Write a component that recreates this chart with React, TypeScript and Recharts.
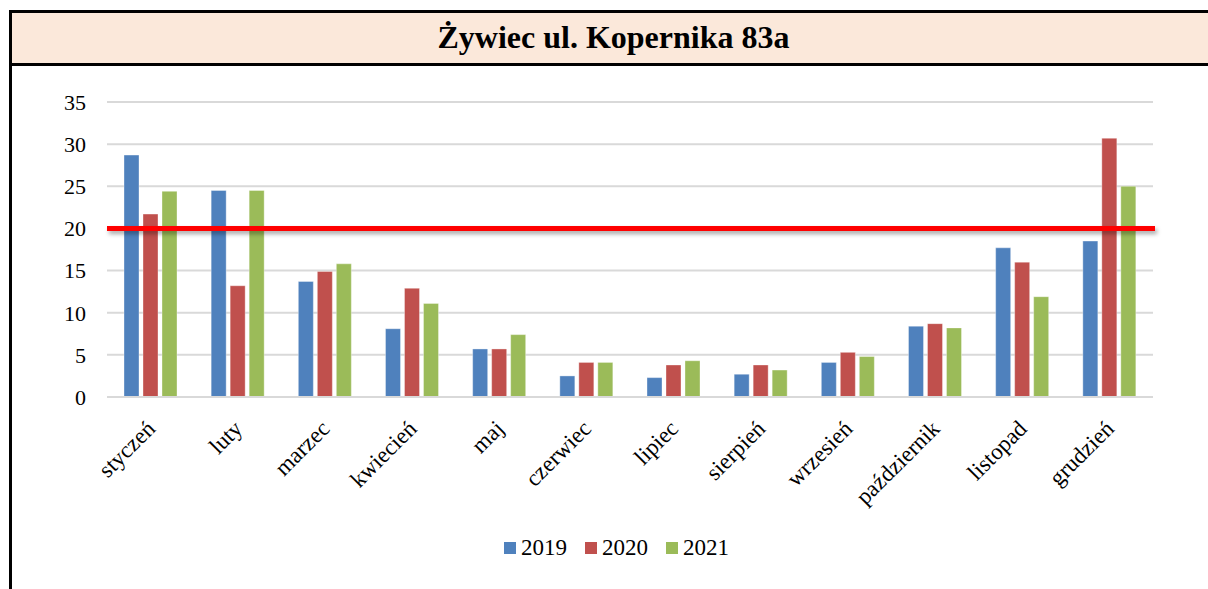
import { Bar, BarChart, CartesianGrid, Legend, ReferenceLine, XAxis, YAxis } from "recharts"

const months = [
  "styczeń",
  "luty",
  "marzec",
  "kwiecień",
  "maj",
  "czerwiec",
  "lipiec",
  "sierpień",
  "wrzesień",
  "październik",
  "listopad",
  "grudzień",
]

const years = ["2019", "2020", "2021"]
const y2019 = [28.7, 24.5, 13.7, 8.1, 5.7, 2.5, 2.3, 2.7, 4.1, 8.4, 17.7, 18.5]
const y2020 = [21.7, 13.2, 14.9, 12.9, 5.7, 4.1, 3.8, 3.8, 5.3, 8.7, 16.0, 30.7]
const y2021 = [24.4, 24.5, 15.8, 11.1, 7.4, 4.1, 4.3, 3.2, 4.8, 8.2, 11.9, 25.0]
const yTicks = [0, 5, 10, 15, 20, 25, 30, 35]
const limit = 20

const colors = ["#4F81BD", "#C0504D", "#9BBB59"]
const font = "'Liberation Serif', 'Times New Roman', serif"

const data = months.map((name, i) => ({
  name,
  "2019": y2019[i],
  "2020": y2020[i],
  "2021": y2021[i],
}))

function MonthTick({ x, y, payload }: any) {
  const ax = x + 6
  const ay = y + 31
  return (
    <text
      x={ax}
      y={ay}
      transform={`rotate(-45 ${ax} ${ay})`}
      textAnchor="end"
      fontSize={23}
      fontFamily={font}
      fill="#000"
    >
      {payload.value}
    </text>
  )
}

function YearLegend() {
  return (
    <div style={{ display: "flex", alignItems: "center", fontFamily: font, fontSize: 23, color: "#000" }}>
      {years.map((yr, i) => (
        <div key={yr} style={{ display: "flex", alignItems: "center", marginRight: 18 }}>
          <span style={{ width: 12, height: 12, background: colors[i], marginRight: 5, display: "inline-block" }} />
          <span style={{ lineHeight: "24px" }}>{yr}</span>
        </div>
      ))}
    </div>
  )
}

export default function App() {
  return (
    <div style={{ position: "relative", width: 1208, height: 589, overflow: "hidden", background: "#fff" }}>
      <style>{`body{margin:0}`}</style>
      <div
        style={{
          position: "absolute",
          left: 9,
          top: 10,
          width: 1300,
          height: 700,
          borderLeft: "3px solid #000",
          borderTop: "3px solid #000",
        }}
      />
      <div
        style={{
          position: "absolute",
          left: 12,
          top: 13,
          width: 1300,
          height: 50,
          background: "#FBE8DA",
          borderBottom: "3px solid #000",
        }}
      />
      <div
        style={{
          position: "absolute",
          left: 0,
          top: 12,
          width: 1227,
          height: 50,
          lineHeight: "50px",
          textAlign: "center",
          fontFamily: font,
          fontWeight: "bold",
          fontSize: 32,
          color: "#000",
        }}
      >
        Żywiec ul. Kopernika 83a
      </div>
      <div style={{ position: "absolute", left: 0, top: 0 }}>
        <BarChart
          width={1208}
          height={589}
          data={data}
          margin={{ top: 102, right: 55, bottom: 92, left: 0 }}
          barCategoryGap={17}
          barGap={4}
        >
          <CartesianGrid vertical={false} stroke="#D9D9D9" strokeWidth={2} />
          <XAxis
            dataKey="name"
            height={100}
            tickLine={false}
            tickSize={0}
            axisLine={{ stroke: "#D9D9D9", strokeWidth: 2 }}
            interval={0}
            tick={<MonthTick />}
          />
          <YAxis
            width={107}
            domain={[0, 35]}
            ticks={yTicks}
            axisLine={false}
            tickLine={false}
            tickSize={0}
            tickMargin={21}
            tick={{ fontSize: 22, fontFamily: font, fill: "#000" }}
          />
          <Legend
            layout="horizontal"
            verticalAlign="middle"
            align="center"
            content={<YearLegend />}
            wrapperStyle={{ position: "absolute", left: 504, top: 536, width: "auto" }}
          />
          {years.map((yr, i) => (
            <Bar
              key={yr}
              dataKey={yr}
              fill={colors[i]}
              stroke="#ffffff"
              strokeOpacity={0.35}
              strokeWidth={1}
              isAnimationActive={false}
            />
          ))}
          <ReferenceLine
            y={limit}
            shape={(p: any) => (
              <line
                x1={p.x1}
                y1={p.y1}
                x2={p.x2 + 2}
                y2={p.y2}
                stroke="#FF0000"
                strokeWidth={5}
                style={{ filter: "drop-shadow(2px 3px 2px rgba(0,0,0,0.35))" }}
              />
            )}
          />
        </BarChart>
      </div>
    </div>
  )
}
